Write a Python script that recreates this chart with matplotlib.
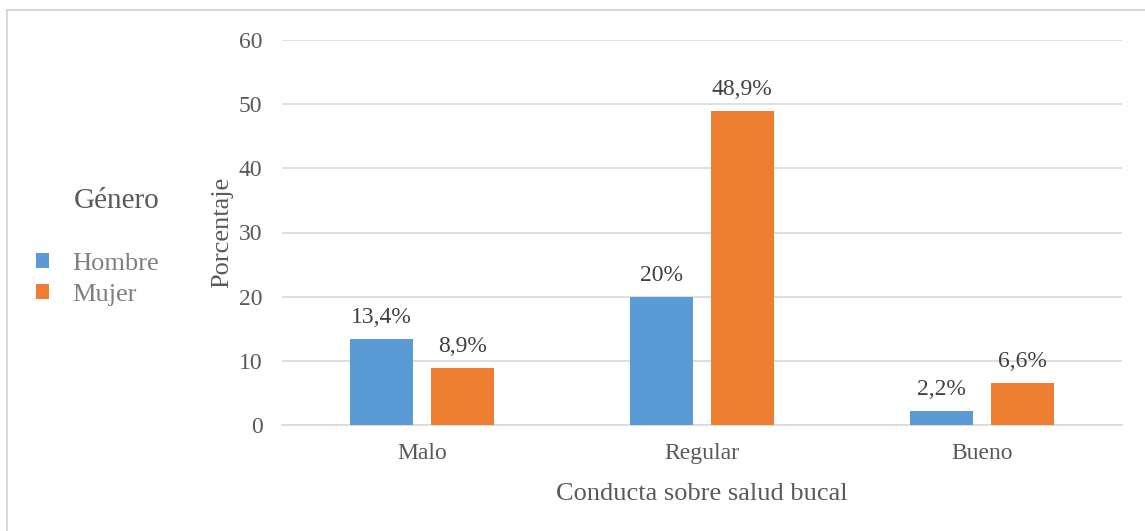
import matplotlib.pyplot as plt
import numpy as np
from matplotlib.lines import Line2D

# Datos
categorias = ['Malo', 'Regular', 'Bueno']
hombre = [13.4, 20, 2.2]
mujer = [8.9, 48.9, 6.6]
etiquetas_hombre = ['13,4%', '20%', '2,2%']
etiquetas_mujer = ['8,9%', '48,9%', '6,6%']
yticks = [0, 10, 20, 30, 40, 50, 60]

azul = '#5b9bd5'
naranja = '#ed7d31'
gris_texto = '#595959'
gris_linea = '#d9d9d9'

plt.rcParams['font.family'] = ['Liberation Serif', 'DejaVu Serif']

fig = plt.figure(figsize=(11.45, 5.31), dpi=100)
ax = fig.add_axes([282 / 1145, 1 - 425 / 531, (1122 - 282) / 1145, 385 / 531])

x = np.arange(len(categorias))
ancho = 0.226
sep = 0.061

b1 = ax.bar(x - (ancho + sep) / 2, hombre, ancho, color=azul, label='Hombre', zorder=3)
b2 = ax.bar(x + (ancho + sep) / 2, mujer, ancho, color=naranja, label='Mujer', zorder=3)

# Etiquetas de datos
for barras, textos in ((b1, etiquetas_hombre), (b2, etiquetas_mujer)):
    for b, t in zip(barras, textos):
        ax.annotate(t, (b.get_x() + b.get_width() / 2, b.get_height()),
                    xytext=(0, 8), textcoords='offset points',
                    ha='center', va='bottom', fontsize=17, color='#404040')

ax.set_xlim(-0.5, 2.5)
ax.set_ylim(0, 60)
ax.set_yticks(yticks)
ax.set_xticks(x)
ax.set_xticklabels(categorias)
ax.tick_params(axis='both', length=0, labelsize=17, labelcolor=gris_texto)
ax.tick_params(axis='y', pad=14)
ax.tick_params(axis='x', pad=13)

ax.grid(axis='y', color=gris_linea, linewidth=1.2, zorder=0)
for s in ['top', 'right', 'left']:
    ax.spines[s].set_visible(False)
ax.spines['bottom'].set_color(gris_linea)
ax.spines['bottom'].set_linewidth(1.2)

ax.set_xlabel('Conducta sobre salud bucal', fontsize=19, color=gris_texto, labelpad=14)
ax.set_ylabel('Porcentaje', fontsize=19, color=gris_texto, labelpad=4)

# Leyenda
leg = fig.legend(handles=[b1, b2], title='Género', loc='center left',
                 bbox_to_anchor=(12 / 1145, 1 - 247 / 531), frameon=False,
                 fontsize=19, title_fontsize=21, handlelength=0.5, handleheight=0.5,
                 handletextpad=0.9, labelspacing=0.35, alignment='right')
leg.get_title().set_color(gris_texto)
for t in leg.get_texts():
    t.set_color('#7f7f7f')
leg._legend_box.sep = 28

# Borde superior e izquierdo
fig.add_artist(Line2D([7 / 1145, 1], [1 - 10 / 531, 1 - 10 / 531],
                      transform=fig.transFigure, color=gris_linea, linewidth=1.5))
fig.add_artist(Line2D([7 / 1145, 7 / 1145], [0, 1 - 10 / 531],
                      transform=fig.transFigure, color=gris_linea, linewidth=1.5))

fig.savefig('out.png', dpi=100)
